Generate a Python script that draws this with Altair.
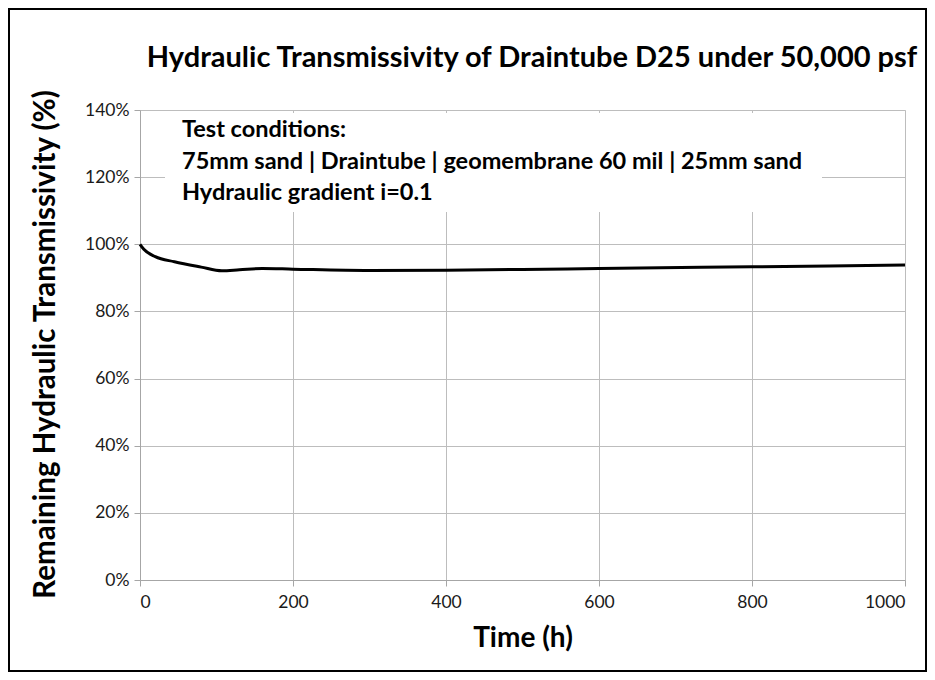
import altair as alt
import pandas as pd

# ---- data ----
time_h = [0, 5, 20, 45, 80, 107, 130, 160, 200, 300, 400, 500, 600, 800, 1000]
remaining = [1.000, 0.985, 0.963, 0.948, 0.932, 0.921, 0.924, 0.928, 0.926,
             0.922, 0.923, 0.925, 0.928, 0.933, 0.938]
x_ticks = [0, 200, 400, 600, 800, 1000]
y_ticks = [0, 0.2, 0.4, 0.6, 0.8, 1.0, 1.2, 1.4]
title_text = "Hydraulic Transmissivity of Draintube D25 under 50,000 psf"
note_lines = ["Test conditions:",
              "75mm sand | Draintube | geomembrane 60 mil | 25mm sand",
              "Hydraulic gradient i=0.1"]
x_title = "Time (h)"
y_title = "Remaining Hydraulic Transmissivity (%)"

FONT = "Lato"
W, H = 765, 470
PAD_L, PAD_T, PAD_R, PAD_B = 132, 102, 22, 92

df = pd.DataFrame({"t": time_h, "r": remaining})
one = pd.DataFrame({"a": [0]})

line = alt.Chart(df).mark_line(color="black", strokeWidth=3, interpolate="monotone").encode(
    x=alt.X("t:Q", scale=alt.Scale(domain=[0, 1000], nice=False),
            axis=alt.Axis(values=x_ticks, format="d", title=x_title, grid=True,
                          gridColor="#bdbdbd", domainColor="#a6a6a6", tickColor="#a6a6a6",
                          tickSize=6, labelFontSize=17.5, labelColor="#1a1a1a", labelPadding=7,
                          labelFont=FONT, titleFont=FONT, titleFontSize=28,
                          titleFontWeight="bold", titleColor="black",
                          titleX=W / 2, titleY=58, titleBaseline="middle", titleAlign="center")),
    y=alt.Y("r:Q", scale=alt.Scale(domain=[0, 1.4], nice=False),
            axis=alt.Axis(values=y_ticks, format=".0%", title=y_title, grid=True,
                          gridColor="#bdbdbd", domainColor="#a6a6a6", tickColor="#a6a6a6",
                          tickSize=6, labelFontSize=17.5, labelColor="#1a1a1a", labelPadding=5,
                          labelFont=FONT, titleFont=FONT, titleFontSize=29.5,
                          titleFontWeight="bold", titleColor="black",
                          titleX=-95, titleY=234, titleBaseline="middle", titleAlign="center")),
)

box = alt.Chart(one).mark_rect(fill="white").encode(
    x=alt.value(25), x2=alt.value(682), y=alt.value(3), y2=alt.value(102))

note_layers = []
for text_line, ypos in zip(note_lines, [20, 52, 83]):
    note_layers.append(
        alt.Chart(one).mark_text(align="left", baseline="middle", font=FONT, fontSize=23.5,
                                 fontWeight="bold", color="black").encode(
            x=alt.value(42), y=alt.value(ypos), text=alt.value(text_line)))

title = alt.Chart(one).mark_text(align="center", baseline="middle", font=FONT,
                                 fontSize=29, fontWeight="bold", color="black").encode(
    x=alt.value(392), y=alt.value(-52), text=alt.value(title_text))

border = alt.Chart(one).mark_rect(fill=None, stroke="black", strokeWidth=2).encode(
    x=alt.value(-PAD_L + 1), x2=alt.value(W + PAD_R - 1),
    y=alt.value(-PAD_T + 1), y2=alt.value(H + PAD_B - 1))

chart = alt.layer(line, box, *note_layers, title, border).properties(
    width=W, height=H,
    autosize=alt.AutoSizeParams(type="none"),
    padding={"left": PAD_L, "top": PAD_T, "right": PAD_R, "bottom": PAD_B},
).configure_view(stroke=None).configure(background="white")

chart.save("out.html", embed_options={"renderer": "svg", "actions": False})
